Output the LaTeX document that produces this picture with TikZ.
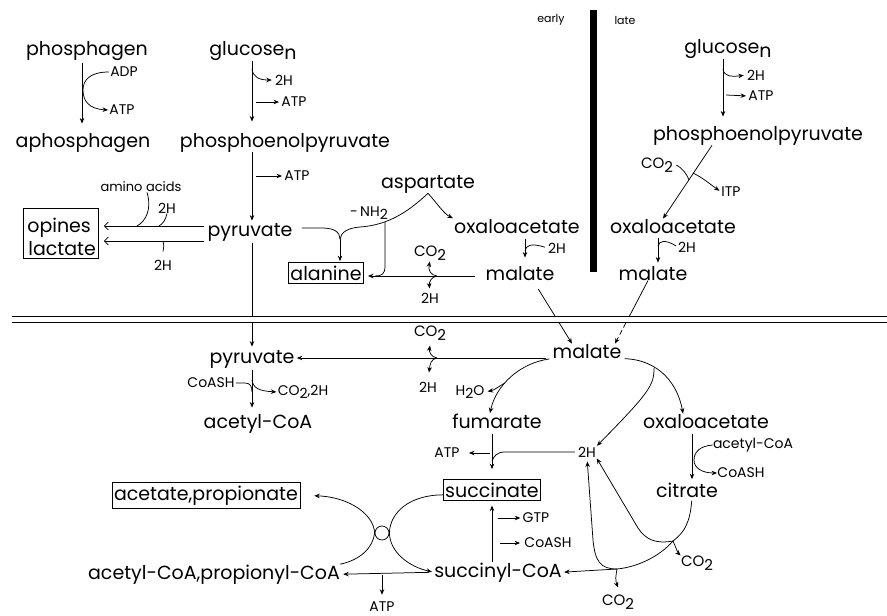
\documentclass[tikz,border=0pt]{standalone}
\usepackage{fontspec}
\setmainfont{Poppins}
\usetikzlibrary{arrows.meta}
\newcommand\dn[1]{\raisebox{-0.45ex}{#1}}
\begin{document}
\begin{tikzpicture}[x=1pt,y=-1pt,line width=0.75pt,
  big/.style={font=\fontsize{19}{22}\selectfont,inner sep=0pt,anchor=base},
  sm/.style={font=\fontsize{14}{16}\selectfont,inner sep=0pt},
  co/.style={font=\fontsize{15}{17}\selectfont,inner sep=0pt},
  tiny/.style={font=\fontsize{11}{13}\selectfont,inner sep=0pt},
  boxed/.style={draw,inner xsep=2pt,inner ysep=3pt,line width=0.8pt},
  arr/.style={-{Stealth[length=5.5pt,width=4.5pt]}},
  barb/.style={-{Straight Barb[length=4pt,width=8pt]}},
]
\fill[white] (0,0) rectangle (887,616);
\useasboundingbox (0,0) rectangle (887,616);

% ---------- nodes: upper left ----------
\node[big] (phos) at (87,55) {phosphagen};
\node[big] (aphos) at (83,147) {aphosphagen};
\node[sm] (adp) at (124,72) {ADP};
\node[sm] (atp1) at (122,110) {ATP};
\node[big] (glcL) at (253,55) {glucose\dn{n}};
\node[big] (pepL) at (285,147) {phosphoenolpyruvate};
\node[sm] (h2g) at (284,80) {2H};
\node[sm] (atpg) at (294,102) {ATP};
\node[sm] (atpp) at (297,176) {ATP};
\node[big] (pyrL) at (250,236) {pyruvate};
\node[draw,line width=0.8pt,minimum width=75pt,minimum height=50pt,inner sep=0pt,anchor=north west] (oplac) at (23,208) {};
\node[big,anchor=base west] (opines) at (27,232) {opines};
\node[big,anchor=base west] (lactate) at (28,255) {lactate};
\node[font=\fontsize{13}{15}\selectfont,inner sep=0pt] (amino) at (141,187) {amino acids};
\node[sm] (h2u) at (167,208) {2H};
\node[sm] (h2d) at (163,265) {2H};
\node[big] (asp) at (428,188) {aspartate};
\node[sm] (nh2) at (369,213) {-\,NH\dn{2}};
\node[big] (oaaM) at (517,233) {oxaloacetate};
\node[big] (malM) at (520,280) {malate};
\node[big,boxed] (ala) at (326,280) {alanine};
\node[co] (co2m) at (430,253) {CO\dn{2}};
\node[sm] (h2m) at (430,298) {2H};
\node[sm] (h2om) at (557,248) {2H};
\node[tiny] (early) at (551,20) {early};
\node[tiny] (late) at (625,20) {late};

% ---------- nodes: upper right ----------
\node[big] (glcR) at (728,53) {glucose\dn{n}};
\node[sm] (h2r) at (756,75) {2H};
\node[sm] (atpr) at (761,96) {ATP};
\node[big] (pepR) at (758,140) {phosphoenolpyruvate};
\node[co] (co2r) at (657,165) {CO\dn{2}};
\node[sm] (itp) at (731,192) {ITP};
\node[big] (oaaR) at (673,233) {oxaloacetate};
\node[sm] (h2r2) at (687,247) {2H};
\node[big] (malR) at (653,280) {malate};

% ---------- nodes: lower ----------
\node[big] (pyrB) at (252,363) {pyruvate};
\node[sm] (coash1) at (211,383) {CoASH};
\node[sm] (co2h) at (303,392) {CO\dn{2},2H};
\node[big] (acoa) at (258,428) {acetyl-CoA};
\node[big] (malB) at (587,358) {malate};
\node[co] (co2b) at (430,333) {CO\dn{2}};
\node[sm] (h2b) at (428,387) {2H};
\node[sm] (h2o) at (470,392) {H\dn{2}O};
\node[big] (fum) at (497,428) {fumarate};
\node[sm] (atpf) at (447,453) {ATP};
\node[sm] (h2c) at (587,452) {2H};
\node[big] (oaaB) at (706,428) {oxaloacetate};
\node[sm] (acsm) at (753,445) {acetyl-CoA};
\node[sm] (coash3) at (741,473) {CoASH};
\node[big] (cit) at (687,497) {citrate};
\node[big,boxed] (succ) at (492,497) {succinate};
\node[big,boxed] (acprop) at (206,500) {acetate,propionate};
\node[sm] (gtp) at (536,518) {GTP};
\node[sm] (coash2) at (548,543) {CoASH};
\node[big] (scoa) at (498,577) {succinyl-CoA};
\node[big] (acpcoa) at (214,579) {acetyl-CoA,propionyl-CoA};
\node[sm] (atps) at (382,607) {ATP};
\node[co] (co2s) at (618,602) {CO\dn{2}};
\node[co] (co2c) at (697,563) {CO\dn{2}};
\node[circle,draw,minimum size=14pt,inner sep=0pt] (cir) at (382,533) {};

% ---------- helper coordinates ----------
\coordinate (xP) at (82,0);
\coordinate (xG) at (252,0);
\coordinate (xR) at (723,0);
\coordinate (xR2) at (658,0);
\coordinate (xM) at (525,0);
\coordinate (xS) at (492,0);
\coordinate (xC) at (692,0);
\coordinate (yU) at (0,226);
\coordinate (yD) at (0,241);
\coordinate (yP) at (0,228);
\coordinate (yAla) at (0,276);
\coordinate (yB) at (0,358);
\coordinate (jG1) at (252,69);
\coordinate (jG2) at (256,102);
\coordinate (jG3) at (256,176);
\coordinate (jA) at (137,226);
\coordinate (jB) at (159,226);
\coordinate (jC) at (163,241);
\coordinate (yj) at (340,239);
\coordinate (jN) at (385,222);
\coordinate (jC1) at (437,276);
\coordinate (jM) at (525,251);
\coordinate (jR0) at (723,69);
\coordinate (jR4) at (726,95);
\coordinate (jR1) at (689,180);
\coordinate (jR2) at (693,173);
\coordinate (jR3) at (658,246);
\coordinate (jD) at (629.5,316);
\coordinate (jB1) at (437,358);
\coordinate (jAc) at (252,392);
\coordinate (jAc2) at (252,380);
\coordinate (jH) at (505,383);
\coordinate (jF1) at (490,453);
\coordinate (jF2) at (492,461);
\coordinate (jG4) at (498,518);
\coordinate (jG5) at (500,543);
\coordinate (jS) at (382,575);
\coordinate (jO) at (654,368);
\coordinate (jC2) at (694,460);
\coordinate (jK1) at (673,541);
\coordinate (jK2) at (617,569);
\coordinate (dlA) at (12,316);
\coordinate (dlB) at (887,316);
\coordinate (dlC) at (12,322);
\coordinate (dlD) at (887,322);

% ---------- connectors: upper left ----------
\draw[arr,shorten <=2pt,shorten >=9pt] (phos.south -| xP) -- (aphos.north -| xP);
\draw[arr,shorten <=1pt,shorten >=1pt] (adp.west) .. controls (90,72) and (83,80) .. (83,90) .. controls (83,101) and (89,109) .. (atp1.west);
\draw[arr,shorten >=11pt] (glcL.south -| xG) -- (pepL.north -| xG);
\draw[arr,shorten >=3pt] (jG1) .. controls (253,77) and (259,80) .. (h2g.west);
\draw[arr,shorten >=2pt] (jG2) -- (atpg.west);
\draw[arr,shorten >=2pt] (pepL.south -| xG) -- (pyrL.north -| xG);
\draw[arr,shorten >=2pt] (jG3) -- (atpp.west);
\draw[barb,shorten <=3pt,shorten >=5pt] (pyrL.west |- yU) -- (oplac.east |- yU);
\draw[barb,shorten <=3pt,shorten >=5pt] (pyrL.west |- yD) -- (oplac.east |- yD);
\draw ([xshift=6pt]amino.south) .. controls (152,209) and (146,221) .. (jA);
\draw (h2u.south) .. controls (166,219) and (163,224) .. (jB);
\draw (jC) .. controls (164,245) and (164,248) .. ([yshift=8pt]h2d.north);
\draw[arr,shorten <=2pt,shorten >=3pt] (pyrL.south -| xG) -- (pyrB.north -| xG);

% pyruvate / aspartate -> alanine
\draw[shorten <=9pt] (pyrL.east |- yP) -- (322,228) .. controls (334,228) and (340,232) .. (yj);
\draw (asp.south) .. controls (410,210) and (390,225) .. (360,227) .. controls (348,228) and (341,232) .. (yj);
\draw[arr,shorten >=1pt] (yj) -- (ala.north -| yj);
\draw (jN) -- (385,266) .. controls (385,274) and (382,276) .. (375,276);
\draw[arr,shorten <=10pt,shorten >=4pt] (malM.west |- yAla) -- (ala.east |- yAla);
\draw[arr,shorten >=1pt] (jC1) .. controls (431,275) and (428,271) .. (co2m.south);
\draw[arr,shorten >=4pt] (jC1) .. controls (431,277) and (429,282) .. (h2m.north);
\draw[arr,shorten >=1pt] (asp.south) .. controls (436,202) and (444,214) .. (oaaM.north west);
\draw[arr,shorten <=5pt,shorten >=8pt] (oaaM.south -| xM) -- (malM.north -| xM);
\draw[shorten >=3pt] (jM) .. controls (526,245) and (531,243) .. (h2om.west);
\draw[arr,shorten <=10pt] ([xshift=13pt]malM.south) -- ([xshift=-15pt]malB.north);

% ---------- connectors: upper right ----------
\draw[arr,shorten >=9pt] (glcR.south -| xR) -- (pepR.north -| xR);
\draw[arr,shorten >=3pt] (jR0) .. controls (724,76) and (730,77) .. (h2r.west);
\draw[arr,shorten >=2pt] (jR4) -- (atpr.west);
\draw[arr] ([xshift=-46pt]pepR.south) -- ([xshift=-10pt]oaaR.north);
\draw ([xshift=3pt]co2r.east) .. controls (682,168) and (687,174) .. (jR1);
\draw[arr,shorten >=2pt] (jR2) .. controls (703,178) and (710,184) .. (itp.west);
\draw[arr,shorten <=4pt,shorten >=3pt] (oaaR.south -| xR2) -- (malR.north -| xR2);
\draw[shorten >=2pt] (jR3) .. controls (659,241) and (665,239) .. (h2r2.west);
\draw ([xshift=-5pt]malR.south) -- (jD);
\draw[arr,dash pattern=on 5pt off 3pt] (jD) -- ([xshift=28pt]malB.north);

% ---------- separators ----------
\fill[white] (dlA) rectangle (dlD);
\draw[line width=0.8pt] (dlA) -- (dlB);
\draw[line width=0.8pt] (dlC) -- (dlD);
\fill (590,10) rectangle (597,272);

% ---------- connectors: lower ----------
\draw[arr,shorten <=6pt,shorten >=2pt] (malB.west |- yB) -- (pyrB.east |- yB);
\draw[arr] (jB1) .. controls (431,357) and (429,352) .. ([yshift=-5pt]co2b.south);
\draw[arr,shorten >=9pt] (jB1) .. controls (431,359) and (430,364) .. (h2b.north);
\draw[arr,shorten <=2pt,shorten >=6pt] (pyrB.south -| xG) -- (acoa.north -| xG);
\draw[shorten <=1pt] (coash1.east) -- (245,383) .. controls (250,383) and (252,386) .. (jAc);
\draw[arr,shorten >=1pt] (jAc2) .. controls (253,388) and (259,391) .. (co2h.west);

\draw[arr,shorten <=3pt] (malB.south west) .. controls (520,363) and (496,385) .. ([xshift=-7pt]fum.north);
\draw[arr,shorten >=3pt] (jH) .. controls (499,386) and (495,390) .. (h2o.east);
\draw[arr,shorten <=5pt,shorten >=10pt] (fum.south -| xS) -- (succ.north -| xS);
\draw[arr,shorten >=9pt] (jF1) -- (atpf.east);
\draw[shorten <=3pt] (h2c.west) -- (505,452) .. controls (497,452) and (494,456) .. (jF2);
\draw[arr,shorten >=5pt] (scoa.north -| xS) -- (succ.south -| xS);
\draw[arr,shorten >=2pt] (jG4) -- (gtp.west);
\draw[arr,shorten >=4pt] (jG5) -- (coash2.west);
\draw[arr,shorten <=5pt,shorten >=3pt] (scoa.west) -- (acpcoa.east);
\draw[arr,shorten >=7pt] (jS) -- (atps.north);

\draw[arr,shorten >=14pt] (cir.west) .. controls (374,515) and (350,497) .. (acprop.east);
\draw (acpcoa.north east) .. controls (360,560) and (373,548) .. (cir.west);
\draw[arr,shorten >=2pt] ([yshift=-5pt]succ.west) .. controls (410,495) and (390,512) .. (cir.east) .. controls (390,553) and (410,567) .. (scoa.west);

% ---------- TCA side ----------
\draw[arr,shorten <=3pt] (malB.south east) .. controls (660,360) and (678,385) .. ([xshift=-23pt]oaaB.north);
\draw[arr,shorten >=1pt] (jO) .. controls (654,385) and (650,392) .. (h2c.north east);
\draw[arr,shorten <=5pt,shorten >=3pt] (oaaB.south -| xC) -- (cit.north -| xC);
\draw[arr] (acsm.west) .. controls (700,446) and (694,452) .. (jC2) .. controls (694,468) and (702,473) .. (coash3.west);
\draw[shorten <=3pt] (cit.south -| xC) .. controls (690,522) and (685,532) .. (jK1) .. controls (660,556) and (638,567) .. (jK2);
\draw[arr,shorten >=2pt] (jK2) -- (scoa.east);
\draw[arr] (jK1) .. controls (676,548) and (678,553) .. (co2c.north west);
\draw[arr] (jK2) .. controls (616,575) and (615,580) .. ([yshift=7pt]co2s.north);
\draw[arr,shorten >=1pt] (jK1) .. controls (656,544) and (646,540) .. (638,528) -- (h2c.south east);
\draw[arr,shorten >=4pt] (jK2) .. controls (601,569) and (595,562) .. (593,540) -- (h2c.south);
\end{tikzpicture}
\end{document}
